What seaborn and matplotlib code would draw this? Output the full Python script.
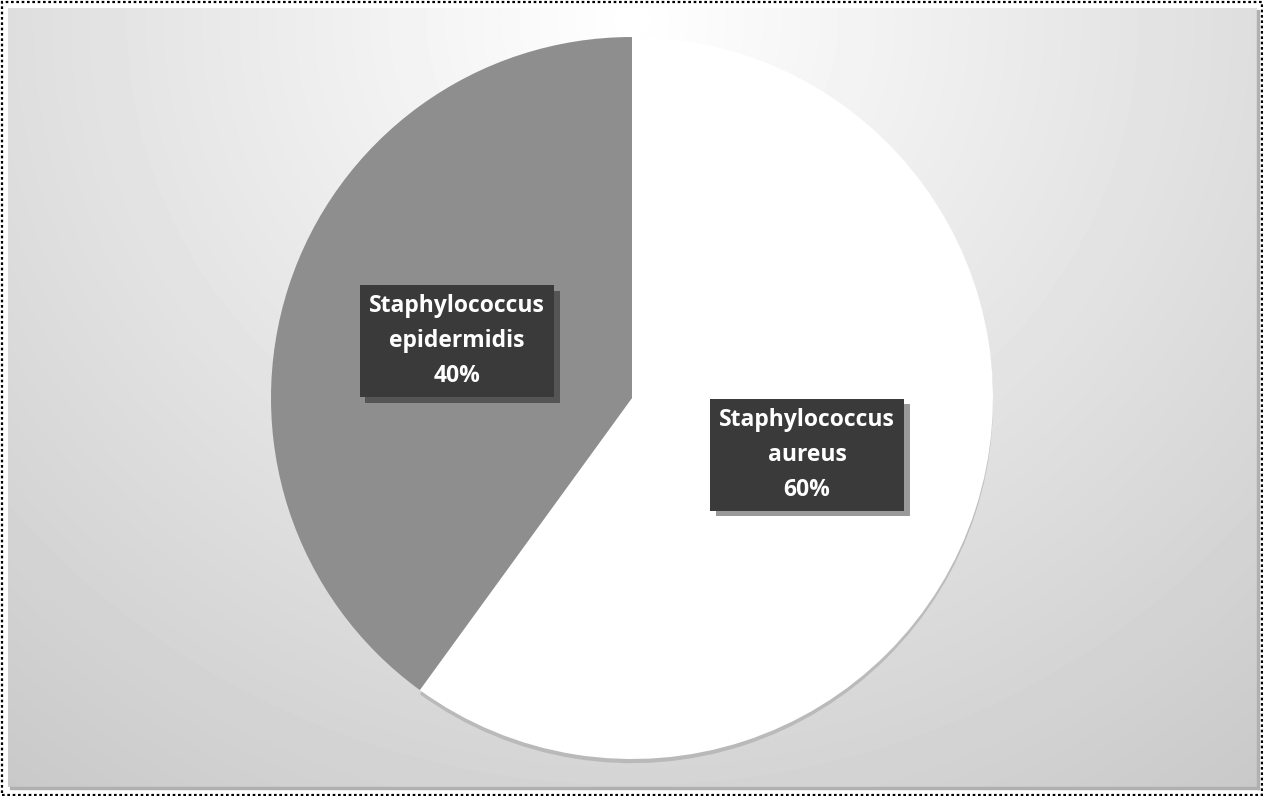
import numpy as np
import matplotlib
matplotlib.use("Agg")
import matplotlib.pyplot as plt
import matplotlib.patheffects as pe
from matplotlib.patches import Rectangle
import seaborn as sns

# Data
categories = ["Staphylococcus aureus", "Staphylococcus epidermidis"]
values = [60, 40]
slice_colors = ["#ffffff", "#8e8e8e"]

sns.set_theme(style="white")
plt.rcParams["font.family"] = ["Open Sans", "DejaVu Sans"]

W, H = 1263, 796
fig = plt.figure(figsize=(W / 100, H / 100), dpi=100)
fig.patch.set_facecolor("white")

# Inner panel with radial gradient background
px0, py0, px1, py1 = 8, 8, 1257, 787  # pixel coords from top-left
bg = fig.add_axes([px0 / W, (H - py1) / H, (px1 - px0) / W, (py1 - py0) / H])
xx, yy = np.meshgrid(np.arange(px0, px1), np.arange(py0, py1))
d = np.hypot((xx - 632) * 0.95, (yy - 20) * 1.0)
val = np.clip(255 - 0.056 * d, 196, 255) / 255.0
bg.imshow(val, cmap="gray", vmin=0, vmax=1, aspect="auto", interpolation="bilinear")
bg.set_axis_off()

# Shadow of the panel (right / bottom)
fig.patches.append(Rectangle(((px1) / W, (H - py1 - 2) / H), 2 / W, (py1 - py0) / H,
                             transform=fig.transFigure, color="#b0b0b0", zorder=0))
fig.patches.append(Rectangle(((px0 + 2) / W, (H - py1 - 2) / H), (px1 - px0) / W, 2 / H,
                             transform=fig.transFigure, color="#b0b0b0", zorder=0))

# Dotted outer border
fig.patches.append(Rectangle((1.5 / W, 1.5 / H), (W - 3) / W, (H - 3) / H,
                             transform=fig.transFigure, fill=False, edgecolor="black",
                             linestyle=(0, (1.2, 1.2)), linewidth=1.6, zorder=5))

# Pie axes
cx, cy, r = 632, 398, 361
ax = fig.add_axes([(cx - r) / W, (H - cy - r) / H, 2 * r / W, 2 * r / H])
labels = [f"{c.split()[0]}\n{c.split()[1]}\n{v}%" for c, v in zip(categories, values)]
wedges, texts = ax.pie(values, colors=slice_colors, startangle=90, counterclock=False,
                       labels=labels, labeldistance=0.51,
                       wedgeprops=dict(linewidth=0),
                       textprops=dict(color="white", fontsize=16.5, fontweight="bold"))
wedges[0].set_path_effects([pe.SimplePatchShadow(offset=(0, -3), shadow_rgbFace="#777777", alpha=0.3),
                            pe.Normal()])
for t in texts:
    t.set_ha("center")
    t.set_va("center")
    t.set_linespacing(1.6)
    t.set_bbox(dict(boxstyle="square,pad=0.4", facecolor="#3a3a3a", edgecolor="none"))
    t.get_bbox_patch().set_path_effects([
        pe.SimplePatchShadow(offset=(4, -4), shadow_rgbFace="black", alpha=0.4),
        pe.Normal()])
ax.set_xlim(-1, 1)
ax.set_ylim(-1, 1)
ax.set_aspect("auto")
ax.set_axis_off()

fig.savefig("out.png", dpi=100, facecolor=fig.get_facecolor())
